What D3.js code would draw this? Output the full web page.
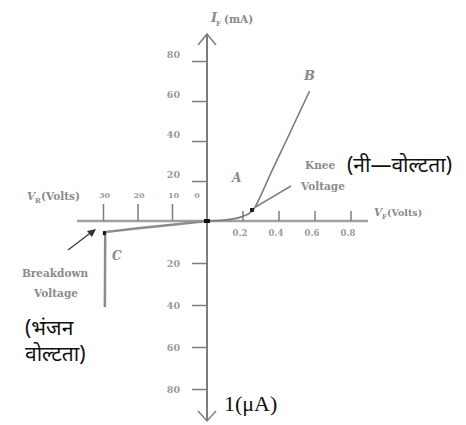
<!DOCTYPE html>
<html>
<head>
<meta charset="utf-8">
<script src="https://cdn.jsdelivr.net/npm/d3@7"></script>
<style>
  body { margin: 0; background: #fff; }
  svg { display: block; }
  .tick-label { font-family: "DejaVu Serif", serif; font-size: 9.5px; font-weight: bold; fill: #9a9a9a; }
  .small { font-family: "DejaVu Serif", serif; font-size: 10.5px; font-weight: bold; fill: #8a8a8a; }
  .hindi { font-family: "Noto Sans", "Lato", sans-serif; font-size: 21px; fill: #111; }
  .serif-big { font-family: "Liberation Serif", serif; font-size: 22px; fill: #111; }
</style>
</head>
<body>
<svg width="466" height="425"></svg>
<script>
// tick values
var forwardTicks = [0.2, 0.4, 0.6, 0.8];
var forwardLabels = ["0.2", "0.4", "0.6", "0.8"];
var reverseTicks = [30, 20, 10];
var reverseLabels = ["30", "20", "10", "0"];
var reverseLabelVals = [30, 20, 10, 0];
var currentUpTicks = [20, 40, 60, 80];   // mA
var currentDownTicks = [20, 40, 60, 80]; // μA

// curves (V, mA) forward and (V, μA) reverse
var forwardV = [0, 0.1, 0.16, 0.2, 0.24, 0.26, 0.3, 0.35, 0.45, 0.57];
var forwardI = [0, 0.5, 1.3, 2.4, 4.2, 6.0, 13, 23, 42, 65];
var reverseV = [0, 10, 20, 29.5, 29.6];
var reverseI = [0, 1.8, 3.5, 5.3, 41];

var svg = d3.select("svg");

var x0 = 207, y0 = 221;

var xF = d3.scaleLinear().domain([0, 0.8]).range([x0, 351]);
var xR = d3.scaleLinear().domain([0, 30]).range([x0, 103.5]);
var yF = d3.scaleLinear().domain([0, 80]).range([y0, 61]);
var yR = d3.scaleLinear().domain([0, 80]).range([y0, 389]);

var axisColor = "#7d7d7d";

// horizontal axis
svg.append("line")
  .attr("x1", 77).attr("x2", 368).attr("y1", y0).attr("y2", y0)
  .attr("stroke", "#a0a0a0").attr("stroke-width", 2.5);

// vertical axis
svg.append("line")
  .attr("x1", x0).attr("x2", x0).attr("y1", 34).attr("y2", 421)
  .attr("stroke", axisColor).attr("stroke-width", 2);

// open arrow heads on vertical axis
svg.append("path")
  .attr("d", "M" + (x0 - 9) + ",45 L" + x0 + ",34 L" + (x0 + 9) + ",45")
  .attr("fill", "none").attr("stroke", axisColor).attr("stroke-width", 1.5);
svg.append("path")
  .attr("d", "M" + (x0 - 9) + ",411 L" + x0 + ",421 L" + (x0 + 9) + ",411")
  .attr("fill", "none").attr("stroke", axisColor).attr("stroke-width", 1.5);

// upper current axis (mA)
var gUp = svg.append("g")
  .attr("transform", "translate(" + x0 + ",0)")
  .call(d3.axisLeft(yF).tickValues(currentUpTicks).tickSize(15).tickPadding(12));
gUp.select(".domain").remove();
gUp.selectAll(".tick line").attr("stroke", axisColor).attr("stroke-width", 1.5);
gUp.selectAll(".tick text").attr("class", "tick-label").attr("dy", "-0.4em");

// lower current axis (μA)
var gDown = svg.append("g")
  .attr("transform", "translate(" + x0 + ",0)")
  .call(d3.axisLeft(yR).tickValues(currentDownTicks).tickSize(15).tickPadding(12));
gDown.select(".domain").remove();
gDown.selectAll(".tick line").attr("stroke", axisColor).attr("stroke-width", 1.5);
gDown.selectAll(".tick text").attr("class", "tick-label");

// forward voltage ticks (upwards) with labels below
svg.selectAll(".fTick").data(forwardTicks).enter().append("line")
  .attr("class", "fTick")
  .attr("x1", function (d) { return xF(d); }).attr("x2", function (d) { return xF(d); })
  .attr("y1", y0).attr("y2", y0 - 10)
  .attr("stroke", axisColor).attr("stroke-width", 1.5);
svg.selectAll(".fLab").data(forwardTicks).enter().append("text")
  .attr("class", "tick-label")
  .attr("x", function (d) { return xF(d) - 3; })
  .attr("y", y0 + 15)
  .attr("text-anchor", "middle")
  .style("font-size", "8.5px")
  .text(function (d, i) { return forwardLabels[i]; });

// reverse voltage ticks (upwards) with labels above
svg.selectAll(".rTick").data(reverseTicks).enter().append("line")
  .attr("class", "rTick")
  .attr("x1", function (d) { return xR(d); }).attr("x2", function (d) { return xR(d); })
  .attr("y1", y0).attr("y2", y0 - 17)
  .attr("stroke", axisColor).attr("stroke-width", 1.5);
svg.selectAll(".rLab").data(reverseLabelVals).enter().append("text")
  .attr("class", "tick-label")
  .attr("x", function (d) { return d === 0 ? xR(d) - 10 : xR(d) + 1; })
  .attr("y", y0 - 23)
  .attr("text-anchor", "middle")
  .style("font-size", "8px")
  .text(function (d, i) { return reverseLabels[i]; });

// forward characteristic
var fLine = d3.line()
  .x(function (d) { return xF(d[0]); })
  .y(function (d) { return yF(d[1]); })
  .curve(d3.curveMonotoneX);
svg.append("path")
  .datum(d3.zip(forwardV, forwardI))
  .attr("d", fLine)
  .attr("fill", "none").attr("stroke", "#7a7a7a").attr("stroke-width", 1.6);

// reverse characteristic
var rLine = d3.line()
  .x(function (d) { return xR(d[0]); })
  .y(function (d) { return yR(d[1]); });
svg.append("path")
  .datum(d3.zip(reverseV, reverseI))
  .attr("d", rLine)
  .attr("fill", "none").attr("stroke", "#8c8c8c").attr("stroke-width", 2.5);

// dark dots at origin, knee and breakdown
svg.append("rect").attr("x", x0 - 3).attr("y", y0 - 2).attr("width", 6).attr("height", 4).attr("fill", "#111");
svg.append("rect").attr("x", xF(0.25) - 2).attr("y", yF(5.5) - 2).attr("width", 4).attr("height", 4).attr("fill", "#222");
svg.append("rect").attr("x", xR(29.6) - 2).attr("y", yR(5.3) - 1).attr("width", 3).attr("height", 4).attr("fill", "#111");

// knee arrow
svg.append("line")
  .attr("x1", 291).attr("y1", 186).attr("x2", xF(0.27)).attr("y2", yF(7))
  .attr("stroke", "#808080").attr("stroke-width", 1.5);

// breakdown arrow
svg.append("line")
  .attr("x1", 68).attr("y1", 250).attr("x2", 93).attr("y2", 231)
  .attr("stroke", "#444").attr("stroke-width", 1.5);
svg.append("path")
  .attr("d", "M96,229 L87,231 L92,237 Z")
  .attr("fill", "#333");

// axis titles
svg.append("text").attr("class", "small").attr("x", 211).attr("y", 22).style("font-size", "13px").style("font-style", "italic").text("I");
svg.append("text").attr("class", "small").attr("x", 216).attr("y", 26).style("font-size", "7px").text("F");
svg.append("text").attr("class", "small").attr("x", 224).attr("y", 23).text("(mA)");

svg.append("text").attr("class", "small").attr("x", 27).attr("y", 200).style("font-style", "italic").text("V");
svg.append("text").attr("class", "small").attr("x", 35).attr("y", 203).style("font-size", "7px").text("R");
svg.append("text").attr("class", "small").attr("x", 41).attr("y", 200).text("(Volts)");

svg.append("text").attr("class", "small").attr("x", 374).attr("y", 216).style("font-style", "italic").text("V");
svg.append("text").attr("class", "small").attr("x", 382).attr("y", 219).style("font-size", "7px").text("F");
svg.append("text").attr("class", "small").attr("x", 387).attr("y", 216).style("font-size", "9.5px").text("(Volts)");

// point labels
svg.append("text").attr("class", "small").attr("x", 304).attr("y", 80).style("font-size", "13px").style("font-style", "italic").text("B");
svg.append("text").attr("class", "small").attr("x", 232).attr("y", 182).style("font-size", "12px").style("font-style", "italic").text("A");
svg.append("text").attr("class", "small").attr("x", 112).attr("y", 260).style("font-size", "12px").style("font-style", "italic").text("C");

svg.append("text").attr("class", "small").attr("x", 305).attr("y", 169).text("Knee");
svg.append("text").attr("class", "small").attr("x", 301).attr("y", 190).text("Voltage");
svg.append("text").attr("class", "hindi").attr("x", 347).attr("y", 172).text("(नी—वोल्टता)");

svg.append("text").attr("class", "small").attr("x", 55).attr("y", 277).attr("text-anchor", "middle").text("Breakdown");
svg.append("text").attr("class", "small").attr("x", 56).attr("y", 297).attr("text-anchor", "middle").text("Voltage");
svg.append("text").attr("class", "hindi").attr("x", 25).attr("y", 335).text("(भंजन");
svg.append("text").attr("class", "hindi").attr("x", 25).attr("y", 361).text("वोल्टता)");

svg.append("text").attr("class", "serif-big").attr("x", 224).attr("y", 411).text("1(μA)");
</script>
</body>
</html>
